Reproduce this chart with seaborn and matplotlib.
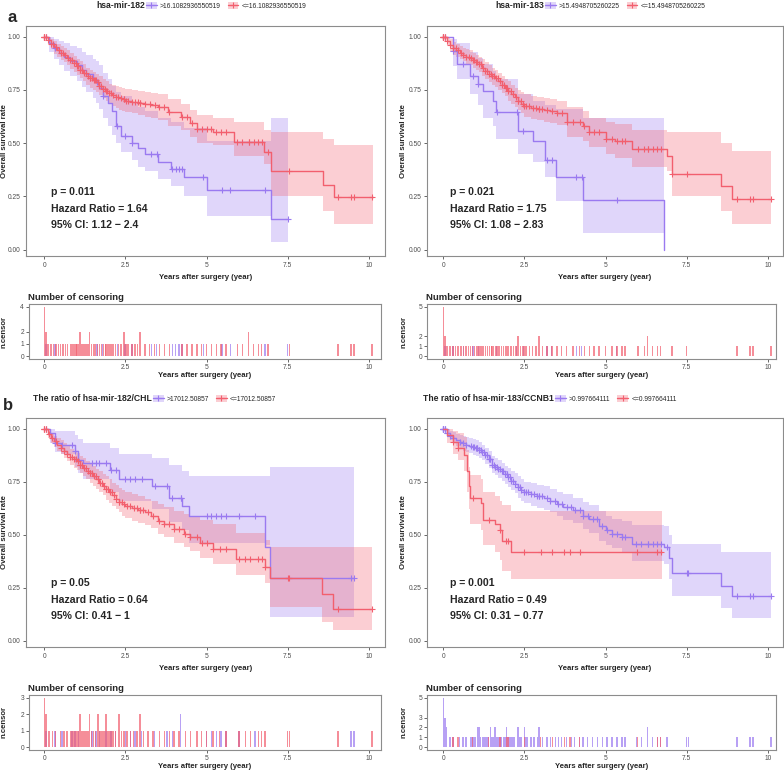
import numpy as np
import matplotlib
matplotlib.use("Agg")
import matplotlib.pyplot as plt
from matplotlib.patches import Patch
from matplotlib.lines import Line2D
from matplotlib.ticker import FuncFormatter
import seaborn as sns

PURPLE = "#9A7AF0"
RED = "#F25F6E"
W, H = 784, 772

# ---------------- panel a, left: hsa-mir-182 ----------------
a1_hi_t = [0, 0.15, 0.3, 0.45, 0.6, 0.8, 1.0, 1.15, 1.3, 1.5, 1.6, 1.7, 1.8, 1.95, 2.1, 2.2, 2.35, 2.7, 2.9, 3.1,
           3.5, 3.9, 4.3, 5.0, 7.0, 7.5]
a1_hi_s = [1.0, 0.97, 0.945, 0.925, 0.905, 0.885, 0.865, 0.845, 0.825, 0.80, 0.785, 0.76, 0.72, 0.69, 0.65, 0.58,
           0.535, 0.50, 0.475, 0.45, 0.41, 0.38, 0.34, 0.28, 0.145, 0.145]
a1_hi_up = [1.0, 1.0, 0.99, 0.98, 0.97, 0.955, 0.945, 0.93, 0.915, 0.895, 0.885, 0.865, 0.83, 0.80, 0.77, 0.74,
            0.72, 0.69, 0.67, 0.65, 0.62, 0.60, 0.57, 0.51, 0.62, 0.62]
a1_hi_lo = [1.0, 0.93, 0.895, 0.865, 0.84, 0.815, 0.79, 0.765, 0.74, 0.71, 0.69, 0.66, 0.62, 0.58, 0.54, 0.50,
            0.46, 0.42, 0.39, 0.37, 0.33, 0.30, 0.25, 0.16, 0.035, 0.035]
a1_hi_cens = [0.05, 0.33, 1.62, 1.8, 2.25, 2.48, 2.7, 3.3, 3.46, 3.95, 4.05, 4.15, 4.25, 4.9, 5.47, 5.73, 6.8, 7.5]

a1_lo_t = [0, 0.1, 0.2, 0.3, 0.4, 0.5, 0.6, 0.7, 0.8, 0.9, 1.0, 1.1, 1.2, 1.3, 1.4, 1.5, 1.6, 1.7, 1.8, 1.9,
           2.0, 2.1, 2.2, 2.3, 2.4, 2.5, 2.7, 2.9, 3.1, 3.3, 3.5, 3.8, 4.2, 4.5, 4.7, 5.2, 5.85, 6.77, 6.98,
           8.58, 8.94, 10.12]
a1_lo_s = [1.0, 0.985, 0.965, 0.95, 0.935, 0.925, 0.915, 0.9, 0.89, 0.875, 0.86, 0.845, 0.83, 0.815, 0.805,
           0.795, 0.785, 0.77, 0.755, 0.745, 0.735, 0.725, 0.718, 0.71, 0.705, 0.70, 0.695, 0.688, 0.685, 0.68,
           0.672, 0.645, 0.625, 0.595, 0.565, 0.55, 0.505, 0.46, 0.367, 0.305, 0.247, 0.247]
a1_lo_up = [1.0, 1.0, 0.99, 0.98, 0.965, 0.955, 0.945, 0.935, 0.925, 0.91, 0.895, 0.885, 0.87, 0.855, 0.845,
            0.835, 0.825, 0.815, 0.80, 0.79, 0.78, 0.775, 0.77, 0.765, 0.76, 0.755, 0.75, 0.745, 0.74, 0.735,
            0.73, 0.705, 0.685, 0.655, 0.63, 0.62, 0.60, 0.56, 0.55, 0.52, 0.49, 0.49]
a1_lo_lo = [1.0, 0.965, 0.94, 0.92, 0.905, 0.89, 0.88, 0.865, 0.85, 0.835, 0.82, 0.805, 0.79, 0.775, 0.76,
            0.75, 0.74, 0.725, 0.71, 0.70, 0.69, 0.675, 0.665, 0.655, 0.65, 0.645, 0.64, 0.63, 0.625, 0.62,
            0.61, 0.58, 0.56, 0.53, 0.50, 0.49, 0.44, 0.40, 0.25, 0.18, 0.12, 0.12]
a1_lo_cens = [0, 0, 0, 0, 0.05, 0.05, 0.12, 0.2, 0.28, 0.36, 0.44, 0.5, 0.58, 0.65, 0.72, 0.8, 0.86, 0.92,
              0.98, 1.0, 1.04, 1.1, 1.1, 1.16, 1.22, 1.28, 1.34, 1.4, 1.4, 1.46, 1.52, 1.55, 1.58, 1.64, 1.7,
              1.76, 1.82, 1.88, 1.9, 1.94, 2.0, 2.06, 2.12, 2.2, 2.28, 2.36, 2.45, 2.45, 2.52, 2.58, 2.7, 2.8,
              2.88, 2.95, 2.95, 3.1, 3.25, 3.4, 3.55, 3.7, 3.85, 4.25, 4.4, 4.55, 4.7, 4.85, 5.0, 5.15, 5.3,
              5.45, 5.6, 5.95, 6.1, 6.3, 6.3, 6.45, 6.6, 6.7, 6.9, 7.55, 9.05, 9.45, 9.55, 10.1]

# ---------------- panel a, right: hsa-mir-183 ----------------
a2_hi_t = [0, 0.3, 0.41, 0.82, 1.08, 1.23, 1.54, 1.62, 2.29, 2.77, 3.13, 3.47, 4.3, 6.81]
a2_hi_s = [1.0, 0.934, 0.872, 0.817, 0.778, 0.747, 0.70, 0.645, 0.559, 0.512, 0.419, 0.341, 0.231, 0.0]
a2_hi_up = [1.0, 0.99, 0.97, 0.93, 0.90, 0.87, 0.84, 0.80, 0.73, 0.70, 0.68, 0.66, 0.62, 0.62]
a2_hi_lo = [1.0, 0.86, 0.80, 0.73, 0.68, 0.62, 0.58, 0.52, 0.45, 0.41, 0.34, 0.23, 0.08, 0.08]
a2_hi_cens = [0.05, 0.3, 0.62, 0.92, 1.08, 1.64, 2.26, 2.47, 3.19, 3.34, 4.1, 4.26, 5.34]

a2_lo_t = [0, 0.1, 0.2, 0.3, 0.4, 0.5, 0.6, 0.7, 0.8, 0.9, 1.0, 1.1, 1.2, 1.3, 1.4, 1.5, 1.6, 1.7, 1.8, 1.9,
           2.0, 2.1, 2.2, 2.3, 2.4, 2.5, 2.7, 2.9, 3.1, 3.3, 3.5, 3.8, 4.3, 4.5, 5.0, 5.3, 5.8, 6.9, 7.05,
           8.55, 8.9, 10.1]
a2_lo_s = [1.0, 0.98, 0.96, 0.945, 0.935, 0.925, 0.915, 0.905, 0.9, 0.89, 0.88, 0.87, 0.855, 0.84, 0.825,
           0.815, 0.805, 0.79, 0.775, 0.76, 0.745, 0.73, 0.715, 0.70, 0.685, 0.675, 0.665, 0.66, 0.655, 0.65,
           0.64, 0.60, 0.58, 0.55, 0.52, 0.51, 0.473, 0.44, 0.356, 0.297, 0.24, 0.24]
a2_lo_up = [1.0, 1.0, 0.99, 0.975, 0.965, 0.955, 0.945, 0.94, 0.935, 0.925, 0.915, 0.905, 0.895, 0.88, 0.865,
            0.855, 0.845, 0.83, 0.815, 0.80, 0.79, 0.775, 0.76, 0.75, 0.74, 0.73, 0.72, 0.715, 0.71, 0.705,
            0.70, 0.67, 0.65, 0.62, 0.60, 0.59, 0.56, 0.55, 0.55, 0.50, 0.465, 0.465]
a2_lo_lo = [1.0, 0.96, 0.93, 0.915, 0.905, 0.895, 0.885, 0.87, 0.865, 0.855, 0.845, 0.835, 0.815, 0.80, 0.785,
            0.775, 0.765, 0.75, 0.735, 0.72, 0.70, 0.685, 0.67, 0.655, 0.64, 0.625, 0.615, 0.61, 0.60, 0.595,
            0.585, 0.53, 0.51, 0.48, 0.45, 0.43, 0.39, 0.37, 0.25, 0.18, 0.12, 0.12]
a2_lo_cens = [0, 0, 0, 0, 0, 0.05, 0.05, 0.12, 0.2, 0.3, 0.38, 0.46, 0.55, 0.62, 0.7, 0.78, 0.84, 0.9, 0.96,
              1.02, 1.05, 1.1, 1.16, 1.22, 1.3, 1.36, 1.42, 1.48, 1.5, 1.55, 1.62, 1.68, 1.74, 1.8, 1.86,
              1.92, 1.95, 2.0, 2.08, 2.16, 2.24, 2.3, 2.3, 2.38, 2.46, 2.5, 2.55, 2.65, 2.75, 2.85, 2.95,
              2.95, 3.05, 3.2, 3.35, 3.5, 3.65, 3.8, 4.0, 4.2, 4.35, 4.5, 4.65, 4.8, 5.0, 5.2, 5.35, 5.5,
              5.6, 6.0, 6.2, 6.3, 6.3, 6.45, 6.6, 6.7, 7.05, 7.5, 9.05, 9.45, 9.55, 10.1]

# ---------------- panel b, left: ratio hsa-mir-182/CHL ----------------
b1_hi_t = [0, 0.17, 0.33, 0.5, 0.95, 1.05, 1.2, 2.03, 2.29, 3.33, 3.83, 4.24, 4.45, 6.8, 6.95, 9.55]
b1_hi_s = [1.0, 0.98, 0.933, 0.925, 0.893, 0.854, 0.839, 0.807, 0.76, 0.729, 0.674, 0.635, 0.589, 0.44, 0.295, 0.295]
b1_hi_up = [1.0, 1.0, 0.99, 0.99, 0.97, 0.95, 0.93, 0.91, 0.88, 0.86, 0.83, 0.80, 0.775, 0.775, 0.82, 0.82]
b1_hi_lo = [1.0, 0.93, 0.89, 0.88, 0.82, 0.79, 0.76, 0.70, 0.66, 0.62, 0.56, 0.52, 0.46, 0.45, 0.11, 0.11]
b1_hi_cens = [0.05, 0.33, 0.54, 0.85, 0.95, 1.05, 1.47, 1.6, 1.7, 1.9, 2.05, 2.2, 2.5, 2.65, 2.8, 3.0, 3.4,
              3.78, 3.95, 4.2, 4.2, 5.0, 5.15, 5.3, 5.45, 5.6, 6.0, 6.5, 9.45, 9.55]

b1_lo_t = [0, 0.1, 0.2, 0.3, 0.4, 0.5, 0.6, 0.7, 0.8, 0.9, 1.0, 1.1, 1.2, 1.3, 1.4, 1.5, 1.6, 1.7, 1.8, 1.9,
           2.0, 2.1, 2.2, 2.3, 2.4, 2.5, 2.7, 2.9, 3.1, 3.3, 3.5, 3.7, 4.0, 4.3, 4.5, 4.8, 5.2, 5.9, 6.8, 6.95,
           8.55, 8.9, 10.1]
b1_lo_s = [1.0, 0.975, 0.955, 0.94, 0.925, 0.91, 0.895, 0.88, 0.865, 0.855, 0.845, 0.83, 0.815, 0.80, 0.79,
           0.775, 0.76, 0.745, 0.73, 0.715, 0.70, 0.685, 0.67, 0.655, 0.645, 0.635, 0.625, 0.615, 0.605, 0.59,
           0.565, 0.55, 0.525, 0.505, 0.49, 0.46, 0.43, 0.385, 0.345, 0.295, 0.22, 0.15, 0.15]
b1_lo_up = [1.0, 0.995, 0.98, 0.965, 0.955, 0.945, 0.93, 0.92, 0.905, 0.895, 0.885, 0.87, 0.86, 0.845, 0.835,
            0.825, 0.81, 0.80, 0.785, 0.775, 0.76, 0.745, 0.735, 0.72, 0.71, 0.70, 0.69, 0.68, 0.67, 0.66,
            0.645, 0.63, 0.61, 0.595, 0.585, 0.57, 0.55, 0.51, 0.475, 0.44, 0.44, 0.44, 0.44]
b1_lo_lo = [1.0, 0.955, 0.93, 0.915, 0.895, 0.88, 0.86, 0.845, 0.83, 0.815, 0.805, 0.79, 0.775, 0.76, 0.745,
            0.73, 0.715, 0.70, 0.685, 0.665, 0.65, 0.635, 0.62, 0.605, 0.59, 0.58, 0.565, 0.555, 0.545, 0.53,
            0.505, 0.49, 0.46, 0.44, 0.425, 0.39, 0.36, 0.31, 0.27, 0.16, 0.09, 0.05, 0.05]
b1_lo_cens = [0, 0, 0, 0.05, 0.05, 0.15, 0.25, 0.35, 0.5, 0.6, 0.7, 0.8, 0.86, 0.92, 0.98, 1.04, 1.1, 1.1,
              1.16, 1.22, 1.28, 1.34, 1.4, 1.4, 1.46, 1.52, 1.58, 1.65, 1.65, 1.72, 1.78, 1.84, 1.9, 1.9,
              1.96, 2.02, 2.08, 2.14, 2.2, 2.3, 2.3, 2.38, 2.46, 2.55, 2.65, 2.75, 2.85, 2.95, 2.95, 3.05,
              3.2, 3.35, 3.55, 3.7, 3.85, 4.0, 4.15, 4.35, 4.5, 4.7, 4.85, 5.0, 5.2, 5.4, 5.6, 6.0, 6.2,
              6.35, 6.6, 6.7, 6.8, 7.5, 7.55, 9.05, 10.1]

# ---------------- panel b, right: ratio hsa-mir-183/CCNB1 ----------------
b2_hi_t = [0, 0.1, 0.2, 0.3, 0.4, 0.5, 0.6, 0.7, 0.8, 0.9, 1.0, 1.1, 1.2, 1.3, 1.4, 1.5, 1.6, 1.7, 1.8, 1.9,
           2.0, 2.1, 2.2, 2.3, 2.4, 2.5, 2.7, 2.9, 3.1, 3.3, 3.5, 3.7, 4.0, 4.3, 4.5, 4.8, 5.0, 5.2, 5.5, 5.8,
           6.8, 6.95, 7.05, 8.55, 8.9, 10.1]
b2_hi_s = [1.0, 0.98, 0.965, 0.955, 0.945, 0.935, 0.93, 0.925, 0.92, 0.915, 0.91, 0.90, 0.89, 0.875, 0.855,
           0.83, 0.82, 0.81, 0.80, 0.785, 0.77, 0.755, 0.74, 0.725, 0.71, 0.70, 0.69, 0.68, 0.675, 0.66, 0.645,
           0.63, 0.615, 0.59, 0.575, 0.54, 0.52, 0.505, 0.49, 0.455, 0.44, 0.39, 0.32, 0.26, 0.21, 0.21]
b2_hi_up = [1.0, 1.0, 0.99, 0.985, 0.975, 0.97, 0.965, 0.96, 0.955, 0.95, 0.945, 0.935, 0.925, 0.91, 0.895,
            0.87, 0.86, 0.85, 0.84, 0.825, 0.815, 0.80, 0.79, 0.775, 0.76, 0.75, 0.745, 0.735, 0.73, 0.715,
            0.70, 0.69, 0.675, 0.655, 0.64, 0.61, 0.59, 0.575, 0.565, 0.545, 0.54, 0.50, 0.455, 0.42, 0.42, 0.42]
b2_hi_lo = [1.0, 0.96, 0.945, 0.93, 0.92, 0.905, 0.895, 0.89, 0.885, 0.875, 0.87, 0.86, 0.85, 0.835, 0.815,
            0.79, 0.78, 0.765, 0.755, 0.74, 0.725, 0.71, 0.695, 0.675, 0.66, 0.65, 0.635, 0.625, 0.615, 0.605,
            0.59, 0.57, 0.555, 0.525, 0.51, 0.47, 0.45, 0.435, 0.415, 0.375, 0.36, 0.29, 0.21, 0.155, 0.105, 0.105]
b2_hi_cens = [0, 0, 0, 0, 0, 0.05, 0.05, 0.05, 0.1, 0.1, 0.2, 0.3, 0.5, 0.6, 0.7, 0.85, 0.9, 0.95, 1.0, 1.05,
              1.05, 1.1, 1.1, 1.15, 1.2, 1.25, 1.3, 1.35, 1.4, 1.45, 1.45, 1.5, 1.55, 1.6, 1.6, 1.65, 1.7,
              1.75, 1.8, 1.85, 1.9, 1.95, 1.95, 2.0, 2.05, 2.1, 2.15, 2.2, 2.3, 2.3, 2.35, 2.4, 2.5, 2.5,
              2.55, 2.6, 2.7, 2.8, 2.9, 2.95, 2.95, 3.05, 3.2, 3.3, 3.45, 3.55, 3.65, 3.8, 3.95, 4.05,
              4.2, 4.3, 4.45, 4.6, 4.75, 4.9, 5.05, 5.2, 5.35, 5.5, 5.6, 5.95, 6.1, 6.3, 6.3, 6.45, 6.6,
              6.7, 6.9, 7.5, 7.55, 9.05, 9.45, 9.55, 10.1]

b2_lo_t = [0, 0.1, 0.3, 0.45, 0.65, 0.72, 0.78, 0.82, 1.16, 1.22, 1.6, 1.75, 1.8, 2.08, 6.75]
b2_lo_s = [1.0, 0.97, 0.935, 0.91, 0.875, 0.80, 0.73, 0.675, 0.65, 0.57, 0.55, 0.52, 0.47, 0.42, 0.42]
b2_lo_up = [1.0, 1.0, 0.99, 0.98, 0.96, 0.90, 0.82, 0.78, 0.76, 0.70, 0.68, 0.66, 0.64, 0.61, 0.61]
b2_lo_lo = [1.0, 0.93, 0.88, 0.85, 0.80, 0.70, 0.62, 0.55, 0.52, 0.45, 0.42, 0.38, 0.33, 0.29, 0.29]
b2_lo_cens = [0.3, 0.45, 0.9, 1.4, 1.75, 1.94, 2.0, 2.5, 3.0, 3.36, 3.73, 3.9, 4.2, 5.98, 6.6, 6.7]

panels = [
    dict(title="hsa-mir-182", labels=[">16.1082936550519", "<=16.1082936550519"],
         stats=["p = 0.011", "Hazard Ratio = 1.64", "95% CI: 1.12 \u2212 2.4"],
         hi=(a1_hi_t, a1_hi_s, a1_hi_lo, a1_hi_up, a1_hi_cens),
         lo=(a1_lo_t, a1_lo_s, a1_lo_lo, a1_lo_up, a1_lo_cens)),
    dict(title="hsa-mir-183", labels=[">15.4948705260225", "<=15.4948705260225"],
         stats=["p = 0.021", "Hazard Ratio = 1.75", "95% CI: 1.08 \u2212 2.83"],
         hi=(a2_hi_t, a2_hi_s, a2_hi_lo, a2_hi_up, a2_hi_cens),
         lo=(a2_lo_t, a2_lo_s, a2_lo_lo, a2_lo_up, a2_lo_cens)),
    dict(title="The ratio of hsa-mir-182/CHL", labels=[">17012.50857", "<=17012.50857"],
         stats=["p = 0.05", "Hazard Ratio = 0.64", "95% CI: 0.41 \u2212 1"],
         hi=(b1_hi_t, b1_hi_s, b1_hi_lo, b1_hi_up, b1_hi_cens),
         lo=(b1_lo_t, b1_lo_s, b1_lo_lo, b1_lo_up, b1_lo_cens)),
    dict(title="The ratio of hsa-mir-183/CCNB1", labels=[">0.997664111", "<=0.997664111"],
         stats=["p = 0.001", "Hazard Ratio = 0.49", "95% CI: 0.31 \u2212 0.77"],
         hi=(b2_hi_t, b2_hi_s, b2_hi_lo, b2_hi_up, b2_hi_cens),
         lo=(b2_lo_t, b2_lo_s, b2_lo_lo, b2_lo_up, b2_lo_cens)),
]

# pixel layout: main box, censor box, legend title right edge, legend row y, y-label x
layout = [
    dict(main=(26, 26, 385, 256), cens=(29, 304, 381, 359), leg_x=145, leg_y=6, ylab_x=1),
    dict(main=(427, 26, 783, 256), cens=(427, 304, 776, 359), leg_x=544, leg_y=6, ylab_x=400),
    dict(main=(26, 418, 385, 647), cens=(29, 695, 381, 750), leg_x=152, leg_y=399, ylab_x=1),
    dict(main=(427, 418, 783, 647), cens=(427, 695, 776, 750), leg_x=554, leg_y=399, ylab_x=400),
]
# x pixel of t=0 for left / right columns and pixels per year
x0_left, x0_right, ppy = 44.3, 443.3, 32.45

sns.set_theme(style="white")
plt.rcParams['font.family'] = ['Liberation Sans', 'DejaVu Sans']
TICK = "#4D4D4D"


def box(x0, y0, x1, y1):
    return [x0 / W, 1 - y1 / H, (x1 - x0) / W, (y1 - y0) / H]


def surv_at(t, s, x):
    idx = np.searchsorted(np.asarray(t), np.asarray(x), side='right') - 1
    return np.asarray(s)[np.clip(idx, 0, len(s) - 1)]


def style_axes(ax, pad=2.2):
    for sp in ax.spines.values():
        sp.set_color("#8C8C8C")
        sp.set_linewidth(0.8)
    ax.tick_params(axis='both', which='both', length=2, width=0.6, color=TICK,
                   labelsize=4.8, labelcolor=TICK, pad=pad, bottom=True, left=True)
    ax.grid(False)


fig = plt.figure(figsize=(W / 100, H / 100), dpi=100)

for p, lay in zip(panels, layout):
    x0 = x0_left if lay['main'][0] < 392 else x0_right
    mx0, my0, mx1, my1 = lay['main']
    ax = fig.add_axes(box(*lay['main']))
    groups = [(p['hi'], PURPLE), (p['lo'], RED)]

    for (t, s, lo, up, cens), col in groups:
        ax.fill_between(t, lo, up, step='post', color=col, alpha=0.3, lw=0)
    for (t, s, lo, up, cens), col in groups:
        sns.lineplot(x=t, y=s, ax=ax, color=col, lw=1.0, drawstyle='steps-post',
                     estimator=None, sort=False)
        ax.plot(cens, surv_at(t, s, cens), ls='none', marker='+', ms=4, mew=0.8, color=col)

    ax.set_xlim((mx0 - x0) / ppy, (mx1 - x0) / ppy)
    ax.set_ylim(-0.03, 1.05)
    ax.set_xticks([0, 2.5, 5, 7.5, 10])
    ax.set_yticks([0, 0.25, 0.5, 0.75, 1.0])
    ax.xaxis.set_major_formatter(FuncFormatter(lambda v, _: f"{v:g}"))
    ax.yaxis.set_major_formatter(FuncFormatter(lambda v, _: f"{v:.2f}"))
    ax.set_xlabel("Years after surgery (year)", fontsize=5.6, fontweight='bold', labelpad=3.5)
    ax.set_ylabel("")
    style_axes(ax)

    for k, txt in enumerate(p['stats']):
        ax.text(0.2, 0.27 - k * 0.078, txt, fontsize=7.6, fontweight='bold', va='center')

    fig.text(lay['ylab_x'] / W, 1 - ((my0 + my1) / 2) / H, "Overall survival rate",
             rotation=90, fontsize=5.6, fontweight='bold', ha='left', va='center')

    # legend row
    fig.text(lay['leg_x'] / W, 1 - lay['leg_y'] / H, p['title'], fontsize=6.2,
             fontweight='bold', ha='right', va='center')
    handles = [(Patch(facecolor=col, alpha=0.3, lw=0),
                Line2D([], [], color=col, lw=1.0, marker='+', ms=4, mew=0.8))
               for _, col in groups]
    fig.legend(handles, p['labels'], loc='center left',
               bbox_to_anchor=((lay['leg_x'] + 1) / W, 1 - lay['leg_y'] / H),
               ncol=2, frameon=False, fontsize=4.8, handlelength=1.6, handleheight=1.2,
               handletextpad=0.5, columnspacing=1.0, borderpad=0, borderaxespad=0)

    # censoring panel
    cx0, cy0, cx1, cy1 = lay['cens']
    axc = fig.add_axes(box(*lay['cens']))
    all_counts = [0]
    for (t, s, lo, up, cens), col in groups:
        times, counts = np.unique(cens, return_counts=True)
        axc.bar(times, counts, width=0.045, color=col, alpha=0.7, lw=0)
        all_counts += list(counts)
    m = max(all_counts)
    axc.set_xlim((cx0 - x0) / ppy, (cx1 - x0) / ppy)
    axc.set_ylim(-0.06 * m, 1.06 * m)
    axc.set_xticks([0, 2.5, 5, 7.5, 10])
    axc.set_yticks(sorted(set(all_counts)))
    axc.xaxis.set_major_formatter(FuncFormatter(lambda v, _: f"{v:g}"))
    axc.set_xlabel("Years after surgery (year)", fontsize=5.6, fontweight='bold', labelpad=1)
    style_axes(axc, pad=1.6)
    axc.set_title("Number of censoring", fontsize=6.8, fontweight='bold', loc='left',
                  x=-0.003, pad=3)
    fig.text(lay['ylab_x'] / W, 1 - ((cy0 + cy1) / 2) / H, "n.censor",
             rotation=90, fontsize=5.6, fontweight='bold', ha='left', va='center')

fig.text(12 / W, 1 - 17 / H, "a", fontsize=12, fontweight='bold', ha='center', va='center')
fig.text(8 / W, 1 - 406 / H, "b", fontsize=12, fontweight='bold', ha='center', va='center')

fig.savefig("out.png", dpi=100)
